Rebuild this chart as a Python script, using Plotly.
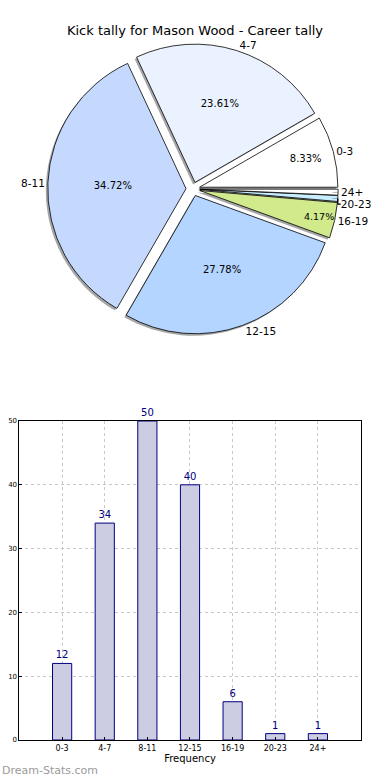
import plotly.graph_objects as go

categories = ["0-3", "4-7", "8-11", "12-15", "16-19", "20-23", "24+"]
counts = [12, 34, 50, 40, 6, 1, 1]
pie_colors = ["#ffffff", "#eaf1ff", "#c5d9ff", "#b3d5ff", "#d0ea8c", "#c8eeff", "#ffffff"]
y_ticks = [0, 10, 20, 30, 40, 50]
title_text = "Kick tally for Mason Wood - Career tally"
watermark = "Dream-Stats.com"

W, H = 390, 780
FONT = "DejaVu Sans"

def px_x(a, b):
    return [a / W, b / W]

def px_y(top, bottom):
    return [(H - bottom) / H, (H - top) / H]

def py(y):
    return (H - y) / H

# pie geometry (pixels in target image)
cx, cy, half = 198, 189, 149
pull = [0.05] * len(categories)
ROT = 60

fig = go.Figure()

# shadow
fig.add_trace(go.Pie(
    labels=categories, values=counts, sort=False, direction="counterclockwise",
    rotation=ROT, pull=pull, textinfo="none", hoverinfo="skip",
    marker=dict(colors=["rgba(0,0,0,0.35)"] * len(categories), line=dict(width=0)),
    domain=dict(x=px_x(cx - half - 2, cx + half - 2), y=px_y(cy - half + 2, cy + half + 2)),
    showlegend=False,
))
# percent labels inside
fig.add_trace(go.Pie(
    labels=categories, values=counts, sort=False, direction="counterclockwise",
    rotation=ROT, pull=pull, textinfo="percent", texttemplate="%{percent:.2%}",
    textposition="inside", insidetextorientation="horizontal",
    textfont=dict(family=FONT, size=10, color="#000000"),
    marker=dict(colors=pie_colors, line=dict(color="#000000", width=0.8)),
    domain=dict(x=px_x(cx - half, cx + half), y=px_y(cy - half, cy + half)),
    showlegend=False,
))
# category labels outside
fig.add_trace(go.Pie(
    labels=categories, values=counts, sort=False, direction="counterclockwise",
    rotation=ROT, pull=pull, textinfo="label", textposition="outside",
    textfont=dict(family=FONT, size=10.5, color="#000000"),
    marker=dict(colors=["rgba(0,0,0,0)"] * len(categories), line=dict(width=0)),
    domain=dict(x=px_x(cx - half, cx + half), y=px_y(cy - half, cy + half)),
    showlegend=False, hoverinfo="skip",
))

# bar chart
fig.add_trace(go.Bar(
    x=categories, y=counts, width=0.45,
    marker=dict(color="#ccccE2", line=dict(color="#000080", width=1)),
    text=[str(c) for c in counts], textposition="outside",
    textfont=dict(family=FONT, size=10, color="#000080"),
    cliponaxis=False, showlegend=False,
))

fig.update_layout(
    width=W, height=H,
    margin=dict(l=0, r=0, t=0, b=0),
    paper_bgcolor="white", plot_bgcolor="white",
    font=dict(family=FONT, color="#000000"),
    title=dict(text=title_text, x=195 / W, xanchor="center", y=py(30), yanchor="middle",
               font=dict(family=FONT, size=13, color="#000000")),
    xaxis=dict(domain=px_x(20, 370), range=[-1, 7], type="category", automargin=False,
               showgrid=True, gridcolor="#c8c8c8", griddash="dot", gridwidth=1,
               showline=True, linecolor="#000000", linewidth=1, mirror=True,
               tickfont=dict(family=FONT, size=8, color="#000000"),
               ticks="inside", ticklen=3, tickcolor="#000000",
               title=dict(text="Frequency", font=dict(family=FONT, size=10), standoff=0),
               zeroline=False, fixedrange=True),
    yaxis=dict(domain=px_y(421, 740), range=[0, 50], tickvals=y_ticks, automargin=False,
               showgrid=True, gridcolor="#c8c8c8", griddash="dot", gridwidth=1,
               showline=True, linecolor="#000000", linewidth=1, mirror=True,
               tickfont=dict(family=FONT, size=7, color="#000000"),
               ticks="inside", ticklen=3, tickcolor="#000000",
               zeroline=False, fixedrange=True),
    annotations=[dict(text=watermark, x=0, y=py(770), xref="paper", yref="paper",
                      xanchor="left", yanchor="middle", showarrow=False,
                      font=dict(family=FONT, size=11, color="#9a9a9a"))],
)

fig.write_html("out.html", config={"displayModeBar": False},
               post_script="document.body.style.margin='0';document.body.style.overflow='hidden';")
